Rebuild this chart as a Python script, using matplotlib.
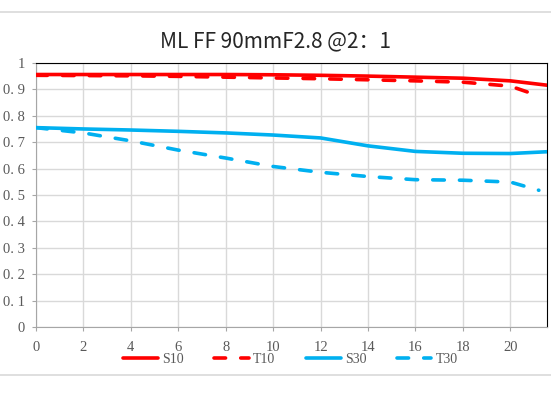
import matplotlib.pyplot as plt
from matplotlib.lines import Line2D

# MTF curves
x_s = [0, 2, 4, 6, 8, 10, 12, 14, 16, 18, 20, 21.6]
s10 = [0.956, 0.956, 0.956, 0.956, 0.956, 0.955, 0.953, 0.950, 0.946, 0.942, 0.932, 0.915]
s30 = [0.755, 0.750, 0.746, 0.741, 0.735, 0.727, 0.716, 0.686, 0.665, 0.658, 0.657, 0.664]

x_t = [0, 2, 4, 6, 8, 10, 12, 14, 16, 18, 20, 21.2]
t10 = [0.953, 0.952, 0.951, 0.949, 0.946, 0.943, 0.940, 0.936, 0.932, 0.927, 0.912, 0.875]
t30 = [0.755, 0.735, 0.705, 0.670, 0.640, 0.608, 0.586, 0.570, 0.558, 0.556, 0.549, 0.518]

names = ['S10', 'T10', 'S30', 'T30']
red = '#ff0000'
blue = '#00b0f0'
txt = '#595959'

fig = plt.figure(figsize=(5.51, 3.98), dpi=100)
ax = fig.add_axes([0.065, 0.178, 0.928, 0.664])

lw = 2.6
dash = dict(linestyle=(0, (3.2, 4.2)), dash_capstyle='round')
ax.plot(x_s, s10, color=red, lw=lw, solid_capstyle='round', zorder=3)
ax.plot(x_t, t10, color=red, lw=lw, zorder=3, **dash)
ax.plot(x_s, s30, color=blue, lw=lw, solid_capstyle='round', zorder=3)
ax.plot(x_t, t30, color=blue, lw=lw, zorder=3, **dash)

ax.set_xlim(0, 21.55)
ax.set_ylim(0, 1)
ax.set_xticks(range(0, 21, 2))
ax.set_yticks([i / 10 for i in range(11)])
ax.set_yticklabels(['0'] + ['0. %d' % i for i in range(1, 10)] + ['1'])
ax.grid(True, color='#d9d9d9', lw=1.0)
ax.set_axisbelow(True)

for side in ['top', 'right']:
    ax.spines[side].set_color('black')
for side in ['left', 'bottom']:
    ax.spines[side].set_color('#a6a6a6')
ax.tick_params(axis='both', length=3, color='#a6a6a6', labelsize=10.5)
ax.tick_params(axis='x', pad=7)
ax.tick_params(axis='y', pad=5)
for lab in ax.get_xticklabels() + ax.get_yticklabels():
    lab.set_family('Liberation Serif')
    lab.set_color(txt)

fig.text(0.5, 0.897, 'ML FF 90mmF2.8 @2：1', fontsize=15, color='#262626',
         ha='center', va='center', family=['Noto Sans CJK SC', 'DejaVu Sans'])

handles = [
    Line2D([], [], color=red, lw=lw, solid_capstyle='round'),
    Line2D([], [], color=red, lw=lw, **dash),
    Line2D([], [], color=blue, lw=lw, solid_capstyle='round'),
    Line2D([], [], color=blue, lw=lw, **dash),
]
leg = fig.legend(handles, names, loc='center', bbox_to_anchor=(0.527, 0.097), ncol=4,
                 frameon=False, handlelength=2.5, handletextpad=0.3, columnspacing=2.2,
                 prop={'family': 'Liberation Serif', 'size': 10})
for t in leg.get_texts():
    t.set_color(txt)

# thin frame lines of the chart area
fig.add_artist(Line2D([0, 1], [0.970, 0.970], color='#d9d9d9', lw=1.2))
fig.add_artist(Line2D([0, 1], [0.057, 0.057], color='#d9d9d9', lw=1.2))

fig.savefig('out.png', dpi=100)
